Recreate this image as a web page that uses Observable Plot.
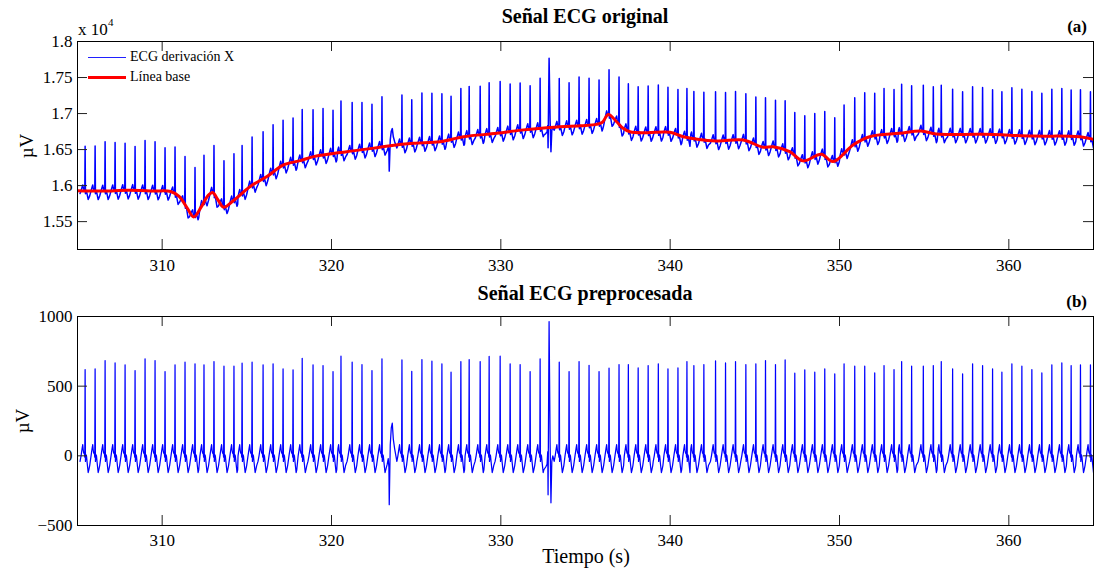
<!DOCTYPE html>
<html><head><meta charset="utf-8">
<script src="https://cdn.jsdelivr.net/npm/d3@7"></script>
<script src="https://cdn.jsdelivr.net/npm/@observablehq/plot@0.6"></script>
<style>
body{margin:0;background:#fff;}
#wrap{position:relative;width:1094px;height:569px;font-family:"Liberation Serif","Times New Roman",serif;color:#000;overflow:hidden;}
#wrap svg{position:absolute;left:0;}
.t{position:absolute;white-space:nowrap;line-height:1;}
.b{font-weight:bold;}
</style></head><body><div id="wrap"></div>
<script>
// ---- data ----
// R-peak times (s) and R amplitudes (µV, preprocessed signal)
const beatTimes = [305.45,306.04,306.63,307.22,307.81,308.40,308.99,309.58,310.17,310.76,
  311.35,311.94,312.47,313.06,313.65,314.24,314.72,315.31,315.96,316.55,
  317.14,317.73,318.27,318.91,319.50,320.09,320.56,321.22,321.80,322.39,322.98,
  324.16,324.74,325.34,325.93,326.52,327.06,327.64,328.13,328.78,329.31,
  329.96,330.55,331.14,331.73,332.32,
  333.45,334.03,334.62,335.21,335.80,336.39,336.98,337.53,338.11,338.70,
  339.30,339.87,340.46,340.99,341.40,341.99,342.68,343.27,343.86,344.47,
  345.06,345.63,346.22,346.79,347.36,347.95,348.54,349.13,349.72,350.27,
  350.90,351.49,352.08,352.63,353.22,353.67,354.26,354.95,355.54,356.01,
  356.68,357.27,357.86,358.45,359.04,359.59,360.18,360.77,361.36,361.95,
  362.54,363.13,363.68,364.23,364.82];
const beatAmps = [619,624,684,667,653,612,696,684,605,653,
  672,660,653,677,643,643,665,672,653,660,
  624,617,700,653,648,605,715,672,655,612,696,
  688,607,691,679,660,600,677,691,677,713,
  715,660,655,605,696,
  672,605,677,650,605,629,655,655,631,648,
  660,624,631,677,648,655,681,667,677,655,
  660,684,655,688,593,617,600,624,588,660,
  643,643,595,648,619,677,643,643,648,677,
  624,588,660,648,624,600,660,643,619,595,
  653,667,648,653,653];
// shape of one normal beat around its R peak (offset s, µV; R value taken from beatAmps)
const beatOffsets = [-0.30,-0.24,-0.18,-0.14,-0.11,-0.08,-0.04,-0.02,0,0.02,0.04,0.08,0.12,0.18,0.22,0.27];
const beatShape   = [-40,0,50,80,40,20,15,-10,0,-40,10,0,-50,-120,-100,-70];
// two abnormal beats
const ectopic1Time = 323.41;
const ectopic1Offsets = [-0.12,-0.06,-0.02,0,0.06,0.12,0.18,0.24,0.32];
const ectopic1Shape   = [-60,-20,-80,-351,80,200,234,120,50];
const ectopic2Time = 332.85;
const ectopic2Offsets = [-0.20,-0.12,-0.08,-0.06,0,0.06,0.11,0.16,0.22];
const ectopic2Shape   = [-80,-60,30,-280,964,100,-337,-40,0];
// baseline (red line), µV
const baseTimes = [305.0,306.5,308.0,309.5,310.5,311.0,311.5,311.86,312.3,312.7,312.98,313.3,313.63,314.2,315.2,316.19,317.17,318.16,318.94,320.91,322.5,323.47,324.84,326.42,327.79,329.76,331.2,332.71,334.68,335.66,336.0,336.35,336.84,337.2,337.62,338.61,339.99,340.77,342.74,344.31,345.49,346.08,347.06,347.85,348.93,349.62,350.8,351.78,353.55,354.83,355.72,358.47,361.42,364.2,365.0];
const baseValues = [15930,15925,15935,15925,15918,15850,15680,15565,15700,15860,15905,15800,15700,15790,15988,16126,16287,16347,16402,16471,16520,16554,16587,16609,16678,16725,16770,16803,16831,16850,16880,16988,16886,16800,16748,16734,16740,16678,16619,16633,16532,16540,16471,16343,16435,16333,16564,16678,16725,16757,16716,16712,16688,16678,16642];
// axes
const xDomain = [305, 365];
const xTicks = [310, 320, 330, 340, 350, 360];
const y1Domain = [15113, 18000];
const y1Ticks = [15500, 16000, 16500, 17000, 17500, 18000];
const y1TickLabels = ["1.55","1.6","1.65","1.7","1.75","1.8"];
const y2Domain = [-500, 1000];
const y2Ticks = [-500, 0, 500, 1000];
const y2TickLabels = ["\u2212500","0","500","1000"];

// ---- build series ----
const beats = beatTimes.map((t, i) => ({t, offs: beatOffsets, vals: beatShape.map((v, j) => beatOffsets[j] === 0 ? beatAmps[i] : v)}));
beats.push({t: ectopic1Time, offs: ectopic1Offsets, vals: ectopic1Shape});
beats.push({t: ectopic2Time, offs: ectopic2Offsets, vals: ectopic2Shape});
beats.sort((a, b) => a.t - b.t);
const ecg = [];
beats.forEach((b, i) => {
  const lo = i > 0 ? (beats[i-1].t + b.t) / 2 : b.t - 0.4;
  const hi = i < beats.length - 1 ? (b.t + beats[i+1].t) / 2 : b.t + 0.4;
  b.offs.forEach((o, j) => { const t = b.t + o; if (t >= lo && t < hi) ecg.push({t, v: b.vals[j]}); });
});
const baseAt = d3.scaleLinear().domain(baseTimes).range(baseValues).clamp(true);
const raw = ecg.map(d => ({t: d.t, v: baseAt(d.t) + d.v}));
const base = baseTimes.map((t, i) => ({t, v: baseValues[i]}));

const FONT = '"Liberation Serif","Times New Roman",serif';
const W = 1094;
function ticksMarks(innerW, innerH, yTicks) {
  const st = {stroke: "#222", strokeWidth: 1};
  return [
    Plot.ruleX(xTicks, {...st, insetTop: innerH - 10}),
    Plot.ruleX(xTicks, {...st, insetBottom: innerH - 10}),
    Plot.ruleY(yTicks, {...st, insetRight: innerW - 10}),
    Plot.ruleY(yTicks, {...st, insetLeft: innerW - 10})
  ];
}

// top panel
const m1 = {l: 77, r: 1, t: 41, b: 36, h: 285};
const p1 = Plot.plot({
  width: W, height: m1.h,
  marginLeft: m1.l, marginRight: m1.r, marginTop: m1.t, marginBottom: m1.b,
  x: {domain: xDomain},
  y: {domain: y1Domain},
  style: {fontFamily: FONT, fontSize: "17px", color: "black", background: "white"},
  marks: [
    Plot.line(raw, {x: "t", y: "v", stroke: "#0000ff", strokeWidth: 1.5, clip: true}),
    Plot.line(base, {x: "t", y: "v", stroke: "#ff0000", strokeWidth: 3, curve: "catmull-rom", clip: true}),
    ...ticksMarks(W - m1.l - m1.r, m1.h - m1.t - m1.b, y1Ticks),
    Plot.frame({stroke: "black", strokeWidth: 1}),
    Plot.axisX({ticks: xTicks, tickSize: 0, tickPadding: 9, label: null, fill: "black"}),
    Plot.axisY({ticks: y1Ticks, tickSize: 0, tickPadding: 5, label: null, fill: "black", tickFormat: (d) => y1TickLabels[y1Ticks.indexOf(d)]})
  ]
});
p1.style.top = "0px";

// bottom panel
const m2 = {l: 77, r: 1, t: 26, b: 44, h: 279};
const p2 = Plot.plot({
  width: W, height: m2.h,
  marginLeft: m2.l, marginRight: m2.r, marginTop: m2.t, marginBottom: m2.b,
  x: {domain: xDomain},
  y: {domain: y2Domain},
  style: {fontFamily: FONT, fontSize: "17px", color: "black", background: "white"},
  marks: [
    Plot.line(ecg, {x: "t", y: "v", stroke: "#0000ff", strokeWidth: 1.25, clip: true}),
    ...ticksMarks(W - m2.l - m2.r, m2.h - m2.t - m2.b, y2Ticks),
    Plot.frame({stroke: "black", strokeWidth: 1}),
    Plot.axisX({ticks: xTicks, tickSize: 0, tickPadding: 8, label: null, fill: "black"}),
    Plot.axisY({ticks: y2Ticks, tickSize: 0, tickPadding: 5, label: null, fill: "black", tickFormat: (d) => y2TickLabels[y2Ticks.indexOf(d)]})
  ]
});
p2.style.top = "290px";

const wrap = document.getElementById("wrap");
wrap.appendChild(p1);
wrap.appendChild(p2);

// text placed by baseline (Liberation Serif, line-height 1 → baseline ≈ 0.8375em below top)
function txt(s, x, baseline, size, opts = {}) {
  const d = document.createElement("div");
  d.className = "t" + (opts.bold ? " b" : "");
  d.textContent = s;
  d.style.fontSize = size + "px";
  d.style.top = (baseline - 0.8375 * size) + "px";
  if (opts.align === "center") { d.style.left = x + "px"; d.style.transform = "translateX(-50%)"; }
  else if (opts.align === "right") { d.style.right = (W - x) + "px"; }
  else d.style.left = x + "px";
  wrap.appendChild(d);
  return d;
}
function vtxt(s, cx, cy, size) {
  const d = document.createElement("div");
  d.className = "t";
  d.textContent = s;
  d.style.fontSize = size + "px";
  d.style.left = cx + "px"; d.style.top = cy + "px";
  d.style.transform = "translate(-50%,-50%) rotate(-90deg)";
  wrap.appendChild(d);
}
txt("Señal ECG original", 585, 23, 20, {bold: true, align: "center"});
txt("(a)", 1087, 32, 17, {bold: true, align: "right"});
txt("Señal ECG preprocesada", 585, 300, 20, {bold: true, align: "center"});
txt("(b)", 1087, 307, 17, {bold: true, align: "right"});
txt("Tiempo (s)", 586, 563, 20, {align: "center"});
vtxt("µV", 26, 146, 19);
vtxt("µV", 22, 421, 19);
txt("x 10", 78, 35, 17);
txt("4", 108, 26, 11);

// legend (swatches as a small SVG on top of the top panel)
const NS = "http://www.w3.org/2000/svg";
const leg = document.createElementNS(NS, "svg");
leg.setAttribute("width", "60"); leg.setAttribute("height", "40");
leg.style.position = "absolute"; leg.style.left = "80px"; leg.style.top = "47px";
[[10.5, "#2020ff", 1.2], [30.5, "#ff0000", 3]].forEach(([y, c, w]) => {
  const l = document.createElementNS(NS, "line");
  l.setAttribute("x1", "8"); l.setAttribute("x2", "46");
  l.setAttribute("y1", y); l.setAttribute("y2", y);
  l.setAttribute("stroke", c); l.setAttribute("stroke-width", w);
  leg.appendChild(l);
});
wrap.appendChild(leg);
txt("ECG derivación X", 130, 62, 14);
txt("Línea base", 130, 82, 14);
</script></body></html>
